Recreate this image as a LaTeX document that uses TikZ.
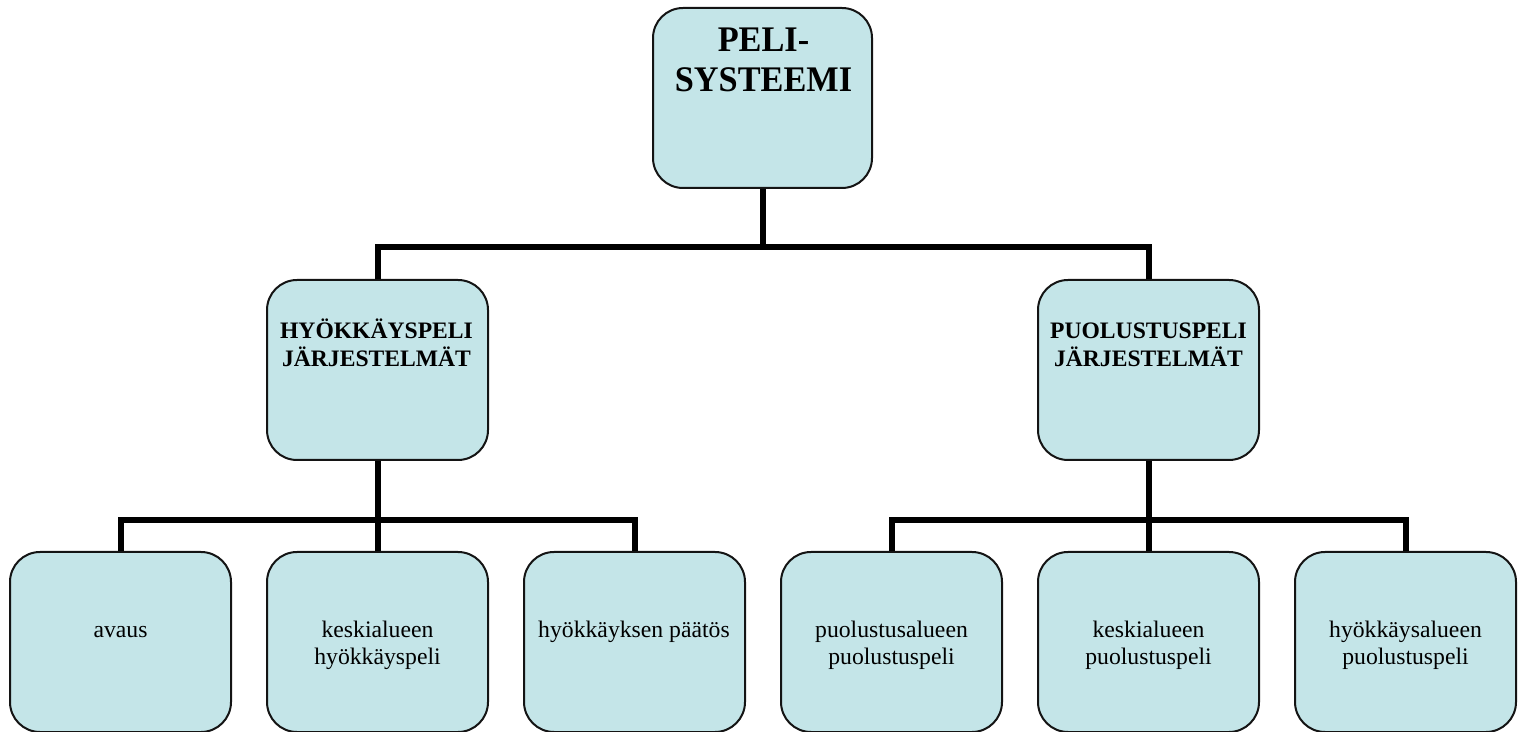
\documentclass[tikz,border=0pt]{standalone}
\usepackage{fontspec}
\setmainfont{Liberation Serif}
\definecolor{boxfill}{RGB}{196,229,232}
\definecolor{boxline}{RGB}{20,20,20}
\tikzset{
  orgbox/.style={draw=boxline, line width=2pt, fill=boxfill, rounded corners=30pt,
    minimum width=221pt, minimum height=180pt, inner sep=0pt},
  conn/.style={line width=6pt, black, line join=miter},
  toptxt/.style={anchor=base, inner sep=0pt, font=\fontsize{34.3}{38}\selectfont\bfseries},
  midtxt/.style={anchor=base, inner sep=0pt, font=\fontsize{23.6}{26.5}\selectfont\bfseries},
  bottxt/.style={anchor=base, inner sep=0pt, font=\fontsize{23.7}{27}\selectfont},
}
\begin{document}
\begin{tikzpicture}[x=1pt,y=1pt]
\useasboundingbox (0,0) rectangle (1520,731);
\begin{scope}
\clip (0,0) rectangle (1520,731);
\coordinate (j0) at (762.5,484);
\coordinate (jl) at (377.5,211);
\coordinate (jr) at (1148.5,211);
% boxes
\node[orgbox, minimum width=219pt] (top) at (762.5,633) {};
\node[orgbox] (hl) at (377.5,361) {};
\node[orgbox] (hr) at (1148.5,361) {};
\node[orgbox] (b1) at (120.5,89) {};
\node[orgbox] (b2) at (377.5,89) {};
\node[orgbox] (b3) at (634.5,89) {};
\node[orgbox] (b4) at (891.5,89) {};
\node[orgbox] (b5) at (1148.5,89) {};
\node[orgbox] (b6) at (1405.5,89) {};
% connectors
\draw[conn] (top.south) -- (j0);
\draw[conn] (hl.north) |- (j0) -| (hr.north);
\draw[conn] (hl.south) -- (jl);
\draw[conn] (b1.north) |- (jl) -| (b3.north);
\draw[conn] (jl) -- (b2.north);
\draw[conn] (hr.south) -- (jr);
\draw[conn] (b4.north) |- (jr) -| (b6.north);
\draw[conn] (jr) -- (b5.north);
% texts
\node[toptxt] (t0) at (763.5,679.5) {\scalebox{1}[1.05]{\begin{tabular}[t]{@{}c@{}}PELI-\\SYSTEEMI\end{tabular}}};
\node[midtxt] (tl) at (376.5,392) {\begin{tabular}[t]{@{}c@{}}HYÖKKÄYSPELI\\JÄRJESTELMÄT\end{tabular}};
\node[midtxt] (tr) at (1148.5,392) {\begin{tabular}[t]{@{}c@{}}PUOLUSTUSPELI\\JÄRJESTELMÄT\end{tabular}};
\node[bottxt] (s1) at (120.5,94) {\begin{tabular}[t]{@{}c@{}}avaus\end{tabular}};
\node[bottxt] (s2) at (377.5,94) {\begin{tabular}[t]{@{}c@{}}keskialueen\\hyökkäyspeli\end{tabular}};
\node[bottxt] (s3) at (634,94) {\begin{tabular}[t]{@{}c@{}}hyökkäyksen päätös\end{tabular}};
\node[bottxt] (s4) at (891.5,94) {\begin{tabular}[t]{@{}c@{}}puolustusalueen\\puolustuspeli\end{tabular}};
\node[bottxt] (s5) at (1148.5,94) {\begin{tabular}[t]{@{}c@{}}keskialueen\\puolustuspeli\end{tabular}};
\node[bottxt] (s6) at (1405.5,94) {\begin{tabular}[t]{@{}c@{}}hyökkäysalueen\\puolustuspeli\end{tabular}};
\end{scope}
\end{tikzpicture}
\end{document}
